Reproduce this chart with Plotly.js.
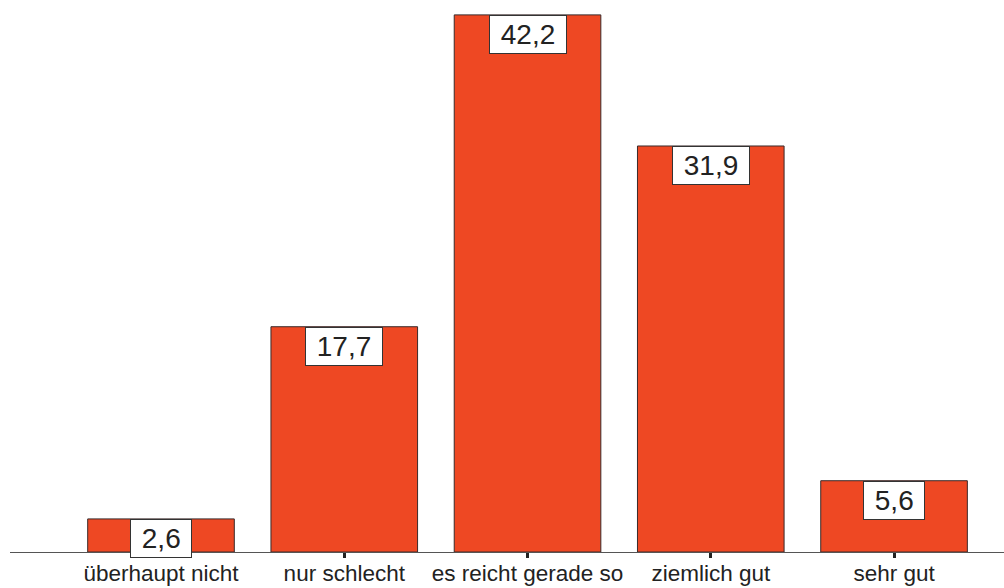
<!DOCTYPE html>
<html>
<head>
<meta charset="utf-8">
<script src="https://cdn.plot.ly/plotly-3.0.1.min.js"></script>
<style>html,body{margin:0;padding:0;background:#fff;}#chart{width:1004px;height:588px;}</style>
</head>
<body>
<div id="chart"></div>
<script>
const categories = ["überhaupt nicht", "nur schlecht", "es reicht gerade so", "ziemlich gut", "sehr gut"];
const values = [2.6, 17.7, 42.2, 31.9, 5.6];
const valueLabels = ["2,6", "17,7", "42,2", "31,9", "5,6"];

const trace = {
  type: "bar",
  x: categories,
  y: values,
  marker: {color: "#EE4823", line: {color: "#3a2a2a", width: 1}},
  hoverinfo: "skip"
};

const annotations = categories.map((c, i) => ({
  x: c, y: values[i], xref: "x", yref: "y",
  xanchor: "center", yanchor: "top",
  text: " " + valueLabels[i] + " ",
  showarrow: false,
  bgcolor: "#ffffff",
  bordercolor: "#333333",
  borderwidth: 1,
  borderpad: 3,
  height: 31,
  font: {family: "Liberation Sans, Arial, sans-serif", size: 28, color: "#222222"}
}));

const layout = {
  width: 1004, height: 588,
  margin: {l: 10, r: 0, t: 0, b: 36},
  paper_bgcolor: "#ffffff", plot_bgcolor: "#ffffff",
  showlegend: false,
  bargap: 0.2,
  font: {family: "Liberation Sans, Arial, sans-serif", color: "#222222"},
  xaxis: {
    type: "category",
    range: [-0.824, 4.6],
    showline: true, linecolor: "#555555", linewidth: 1,
    ticks: "outside", ticklen: 5, tickwidth: 3, tickcolor: "#222222",
    ticklabelstandoff: -4,
    tickfont: {size: 22.5, color: "#222222", family: "Liberation Sans, Arial, sans-serif"},
    showgrid: false, zeroline: false, fixedrange: true
  },
  yaxis: {
    range: [0, 43.37],
    visible: false, showgrid: false, zeroline: false, fixedrange: true
  },
  annotations: annotations
};

Plotly.newPlot("chart", [trace], layout, {staticPlot: true, displayModeBar: false});
</script>
</body>
</html>
